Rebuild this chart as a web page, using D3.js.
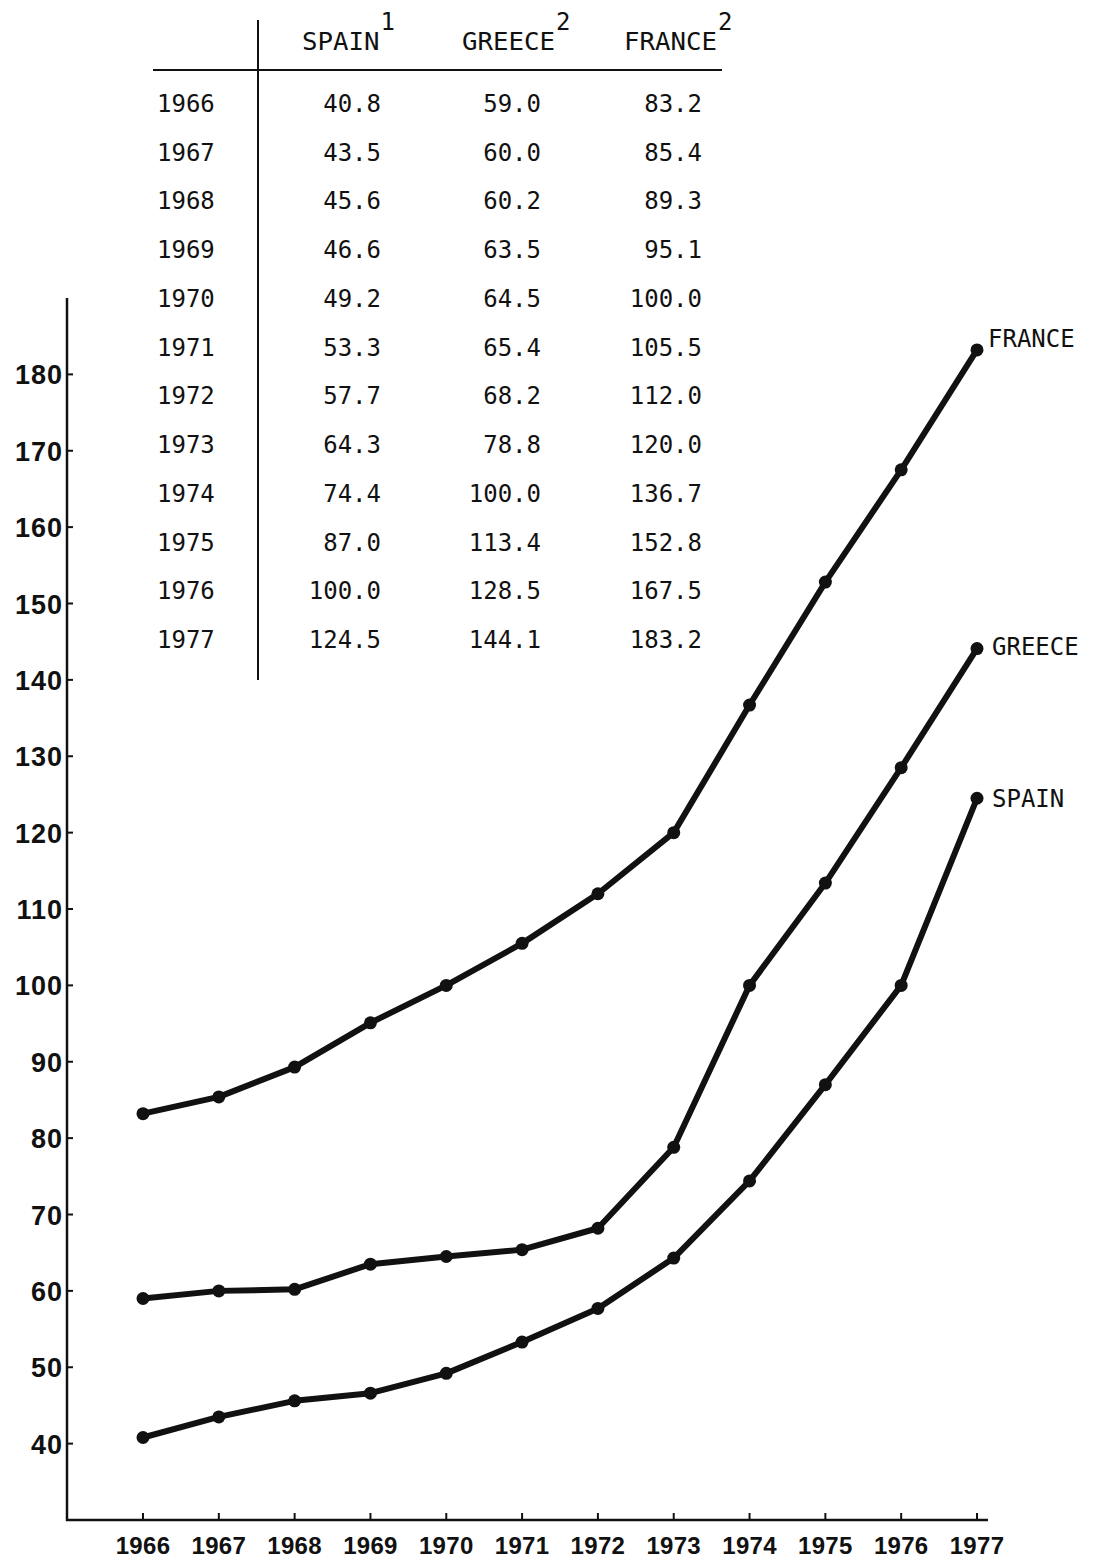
<!DOCTYPE html>
<html>
<head>
<meta charset="utf-8">
<script src="https://cdn.jsdelivr.net/npm/d3@7"></script>
<style>
  body { margin: 0; background: #fff; }
  svg { display: block; }
  .tbl { font-family: "DejaVu Sans Mono", monospace; font-size: 24px; fill: #111; }
  .axislbl { font-family: "Liberation Sans", Arial, sans-serif; font-weight: bold; fill: #111; }
</style>
</head>
<body>
<svg></svg>
<script>
const years = [1966, 1967, 1968, 1969, 1970, 1971, 1972, 1973, 1974, 1975, 1976, 1977];
const spain = [40.8, 43.5, 45.6, 46.6, 49.2, 53.3, 57.7, 64.3, 74.4, 87.0, 100.0, 124.5];
const greece = [59.0, 60.0, 60.2, 63.5, 64.5, 65.4, 68.2, 78.8, 100.0, 113.4, 128.5, 144.1];
const france = [83.2, 85.4, 89.3, 95.1, 100.0, 105.5, 112.0, 120.0, 136.7, 152.8, 167.5, 183.2];
const seriesNames = ["SPAIN", "GREECE", "FRANCE"];
const footnotes = ["1", "2", "2"];
const yTicks = [40, 50, 60, 70, 80, 90, 100, 110, 120, 130, 140, 150, 160, 170, 180];

const width = 1110, height = 1561;
const svg = d3.select("svg").attr("width", width).attr("height", height);

const x = d3.scaleLinear().domain([1966, 1977]).range([143, 977]);
const y = d3.scaleLinear().domain([30, 190]).range([1520, 298]);

// axes
svg.append("line").attr("x1", 67).attr("x2", 67).attr("y1", 298).attr("y2", 1521)
    .attr("stroke", "#111").attr("stroke-width", 2.5);
svg.append("line").attr("x1", 66).attr("x2", 988).attr("y1", 1520).attr("y2", 1520)
    .attr("stroke", "#111").attr("stroke-width", 2.5);

// y ticks
svg.append("g").selectAll("line").data(yTicks).enter().append("line")
    .attr("x1", 67).attr("x2", 73)
    .attr("y1", d => y(d)).attr("y2", d => y(d))
    .attr("stroke", "#111").attr("stroke-width", 2);
svg.append("g").selectAll("text").data(yTicks).enter().append("text")
    .attr("class", "axislbl")
    .attr("x", 63).attr("y", d => y(d) + 10)
    .attr("text-anchor", "end")
    .attr("font-size", 27).attr("letter-spacing", 1)
    .text(d => d);

// x ticks
svg.append("g").selectAll("line").data(years).enter().append("line")
    .attr("x1", d => x(d)).attr("x2", d => x(d))
    .attr("y1", 1520).attr("y2", 1513)
    .attr("stroke", "#111").attr("stroke-width", 2);
svg.append("g").selectAll("text").data(years).enter().append("text")
    .attr("class", "axislbl")
    .attr("x", d => x(d)).attr("y", 1554)
    .attr("text-anchor", "middle")
    .attr("font-size", 24).attr("letter-spacing", 0.3)
    .text(d => d);

// lines
const allSeries = [spain, greece, france];
const line = d3.line().x((d, i) => x(years[i])).y(d => y(d));
allSeries.forEach(s => {
    svg.append("path").datum(s)
        .attr("d", line)
        .attr("fill", "none")
        .attr("stroke", "#111")
        .attr("stroke-width", 6)
        .attr("stroke-linejoin", "round");
    svg.append("g").selectAll("circle").data(s).enter().append("circle")
        .attr("cx", (d, i) => x(years[i])).attr("cy", d => y(d))
        .attr("r", 6.5).attr("fill", "#111");
});

// end labels
const labelPos = [[992, 807], [992, 655], [988, 347]];
seriesNames.forEach((n, i) => {
    svg.append("text").attr("class", "tbl")
        .attr("x", labelPos[i][0]).attr("y", labelPos[i][1])
        .attr("font-size", 30)
        .text(n);
});

// table
const row = d3.scaleLinear().domain([1966, 1977]).range([112, 648]);
svg.append("line").attr("x1", 258).attr("x2", 258).attr("y1", 20).attr("y2", 680)
    .attr("stroke", "#111").attr("stroke-width", 2);
svg.append("line").attr("x1", 153).attr("x2", 722).attr("y1", 70).attr("y2", 70)
    .attr("stroke", "#111").attr("stroke-width", 2);

svg.append("g").selectAll("text").data(years).enter().append("text")
    .attr("class", "tbl").attr("x", 157).attr("y", d => row(d))
    .text(d => d);

const colRight = [381, 541, 702];
const headLeft = [302, 462, 624];
allSeries.forEach((s, j) => {
    svg.append("g").selectAll("text").data(s).enter().append("text")
        .attr("class", "tbl").attr("x", colRight[j]).attr("y", (d, i) => row(years[i]))
        .attr("text-anchor", "end")
        .text(d => d.toFixed(1));
    const w = seriesNames[j].length * 15.5;
    svg.append("text").attr("class", "tbl")
        .attr("x", headLeft[j]).attr("y", 50)
        .attr("font-size", 27).attr("textLength", w)
        .attr("lengthAdjust", "spacingAndGlyphs")
        .text(seriesNames[j]);
    svg.append("text").attr("class", "tbl")
        .attr("x", headLeft[j] + w + 1).attr("y", 30)
        .attr("font-size", 21)
        .text(footnotes[j]);
});
</script>
</body>
</html>
